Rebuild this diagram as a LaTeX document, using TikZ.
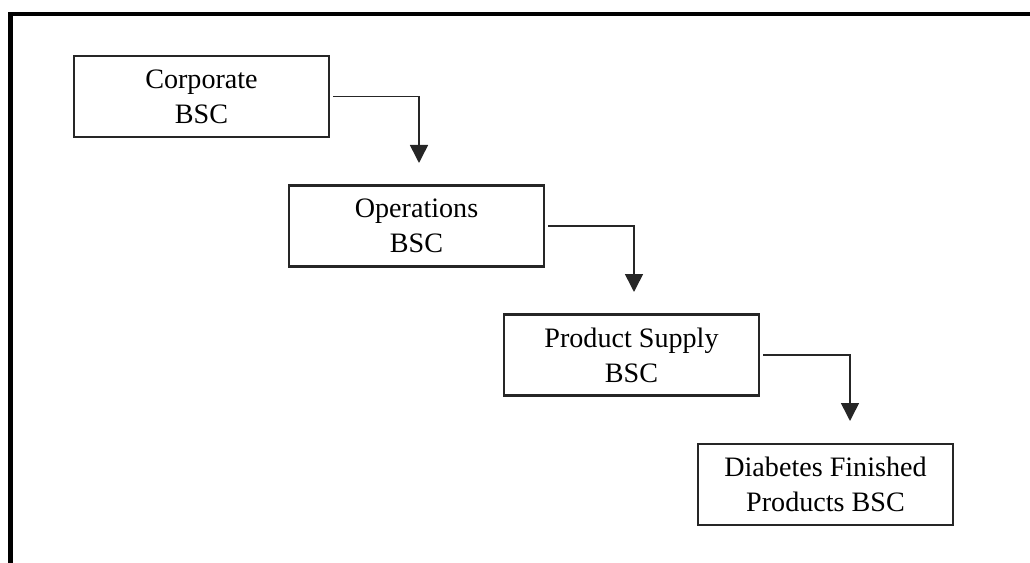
\documentclass[tikz,border=0pt]{standalone}
\usepackage{fontspec}
\setmainfont{Liberation Serif}
\usetikzlibrary{arrows.meta,positioning}

\begin{document}
\begin{tikzpicture}[>={Triangle[length=0.36cm,width=0.36cm]},
  bsc/.style={draw=black!85,line width=1.2pt,minimum width=5.1cm,minimum height=1.62cm,
    align=center,font=\fontsize{16}{20}\selectfont},
  link/.style={->,draw=black!85,line width=0.9pt,shorten <=0.06cm}]
\useasboundingbox (0,0) rectangle (20.6,-11.26);
% frame: only the top and left sides show
\draw[line width=2.8pt] (0.21,-11.3) -- (0.21,-0.28) -- (20.7,-0.28);
% cascade of scorecards
\node[bsc] (corp) at (4.03,-1.93) {Corporate\\BSC};
\node[bsc] (ops) at (8.33,-4.52) {Operations\\BSC};
\node[bsc] (supply) at (12.63,-7.10) {Product Supply\\BSC};
\node[bsc] (diab) at (16.51,-9.69) {Diabetes Finished\\Products BSC};
% arrow ends stop short of the next box
\coordinate (t1) at (8.38,-3.26);
\coordinate (t2) at (12.68,-5.84);
\coordinate (t3) at (17.0,-8.42);
\draw[link] (corp.east) -| (t1);
\draw[link] (ops.east) -| (t2);
\draw[link] (supply.east) -| (t3);
\end{tikzpicture}
\end{document}
